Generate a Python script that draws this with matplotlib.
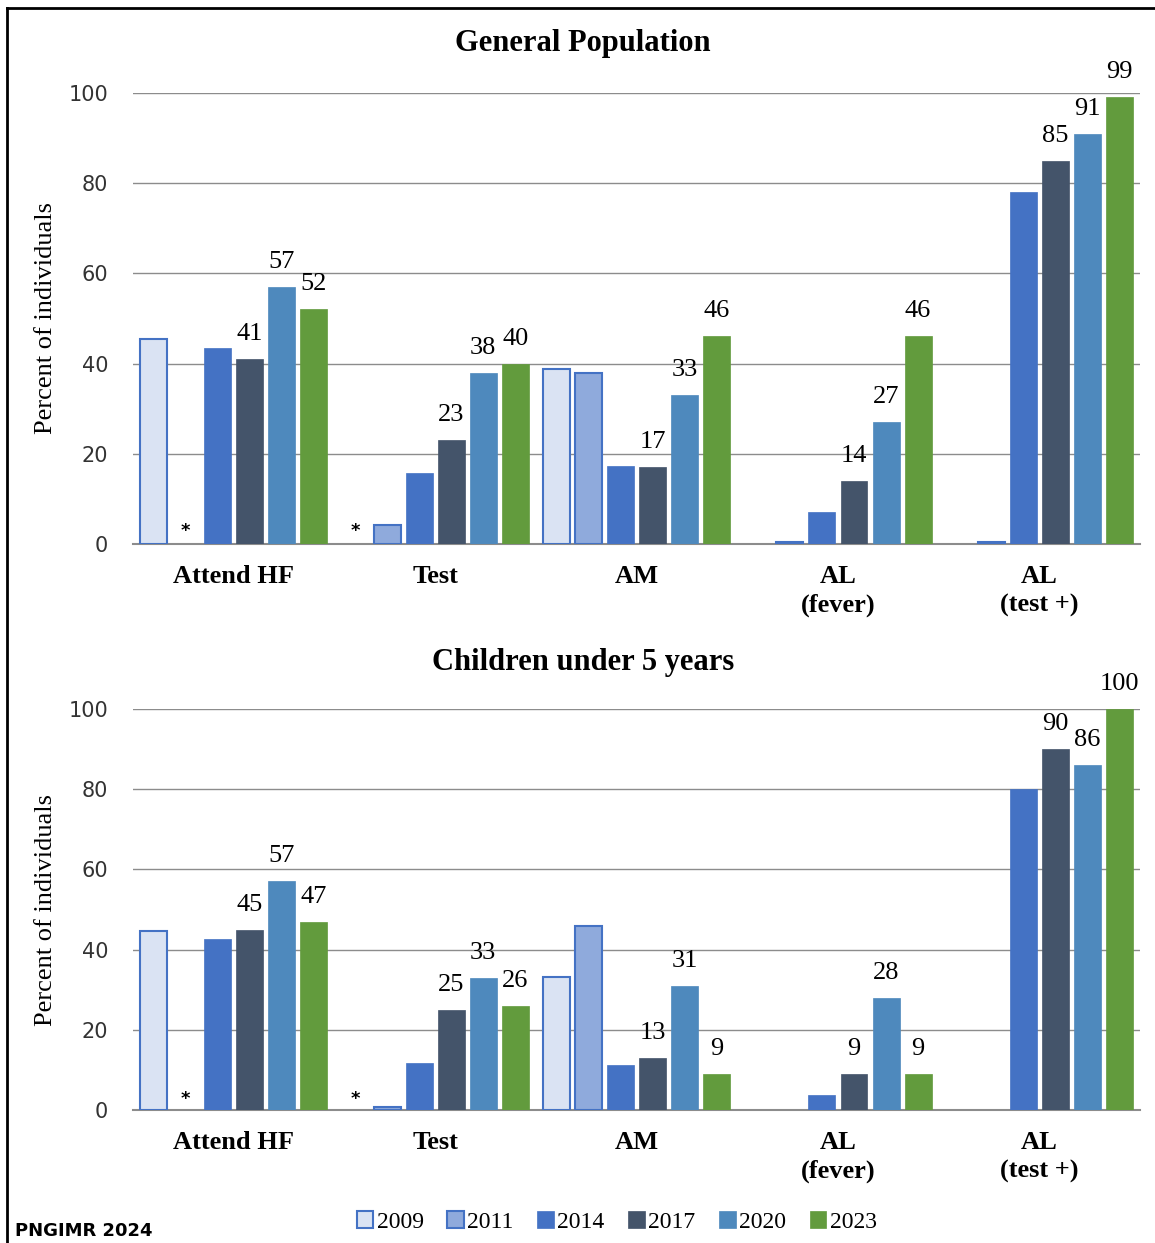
import matplotlib.pyplot as plt
import numpy as np
from matplotlib.lines import Line2D

categories = ["Attend HF", "Test", "AM", "AL\n(fever)", "AL\n(test +)"]
years = ["2009", "2011", "2014", "2017", "2020", "2023"]
labelled = ["2017", "2020", "2023"]

# General population (None = not surveyed that year, shown with *)
gen_2009 = [45.5, None, 38.8, 0, 0]
gen_2011 = [None, 4.2, 38.0, 0.5, 0.5]
gen_2014 = [43.5, 15.8, 17.3, 7.0, 78.0]
gen_2017 = [41, 23, 17, 14, 85]
gen_2020 = [57, 38, 33, 27, 91]
gen_2023 = [52, 40, 46, 46, 99]

# Children under 5 years
u5_2009 = [44.6, None, 33.2, 0, 0]
u5_2011 = [None, 0.8, 45.9, 0, 0]
u5_2014 = [42.6, 11.7, 11.2, 3.7, 80.0]
u5_2017 = [45, 25, 13, 9, 90]
u5_2020 = [57, 33, 31, 28, 86]
u5_2023 = [47, 26, 9, 9, 100]

fills = ["#dae3f3", "#8faadc", "#4472c4", "#44546a", "#4e89bd", "#629b3d"]
edges = ["#4472c4", "#4472c4", "#4472c4", "#44546a", "#4e89bd", "#629b3d"]

serif = "Liberation Serif"
step = 0.159
width = 0.134
grid_col = "#8c8c8c"


def draw_panel(ax, data, title, title_y):
    x = np.arange(len(categories))
    for i, year in enumerate(years):
        pos = x + (i - 2.5) * step
        bx = [p for p, v in zip(pos, data[i]) if v]
        bh = [v for v in data[i] if v]
        ax.bar(bx, bh, width, color=fills[i], edgecolor=edges[i],
               linewidth=1.5 if i < 2 else 0.5, label=year, zorder=3)
        for p, v in zip(pos, data[i]):
            if v is None:
                ax.text(p, 2.8, "*", ha="center", va="center", fontsize=13,
                        fontweight="bold", zorder=4)
            elif year in labelled:
                ax.annotate(f"{v:g}", (p, v), xytext=(0, 18), textcoords="offset points",
                            ha="center", va="center", family=serif, fontsize=19, zorder=4)

    ax.set_xlim(-0.5, len(categories) - 0.5)
    ax.set_ylim(0, 100)
    ax.set_yticks([0, 20, 40, 60, 80, 100])
    ax.yaxis.grid(True, color=grid_col, linewidth=1)
    ax.set_axisbelow(True)
    for s in ["left", "top", "right"]:
        ax.spines[s].set_visible(False)
    ax.spines["bottom"].set_color(grid_col)
    ax.spines["bottom"].set_linewidth(1.5)
    ax.tick_params(axis="y", length=0, pad=18, labelsize=15, labelcolor="#333333")
    ax.tick_params(axis="x", length=0, pad=15)
    ax.set_xticks(x)
    ax.set_xticklabels(categories, family=serif, fontweight="bold", fontsize=19,
                       linespacing=1.3)
    ax.set_ylabel("Percent of individuals", family=serif, fontsize=19)
    ax.yaxis.set_label_coords(-0.076, 0.5)
    fig.text(0.505, title_y, title, ha="center", va="center", family=serif,
             fontweight="bold", fontsize=22)


fig = plt.figure(figsize=(11.55, 12.43), dpi=100)
ax1 = fig.add_axes([0.1152, 0.5624, 0.8719, 0.3628])
ax2 = fig.add_axes([0.1152, 0.1070, 0.8719, 0.3226])

draw_panel(ax1, [gen_2009, gen_2011, gen_2014, gen_2017, gen_2020, gen_2023],
           "General Population", 1 - 44 / 1243)
draw_panel(ax2, [u5_2009, u5_2011, u5_2014, u5_2017, u5_2020, u5_2023],
           "Children under 5 years", 1 - 662 / 1243)

handles, labels = ax1.get_legend_handles_labels()
fig.legend(handles, labels, loc="center", bbox_to_anchor=(0.534, 1 - 1222 / 1243),
           ncol=6, frameon=False, prop={"family": serif, "size": 17},
           handlelength=0.7, handleheight=0.7, handletextpad=0.15, columnspacing=1.0)

fig.text(15 / 1155, 1 - 1231 / 1243, "PNGIMR 2024", ha="left", va="center",
         fontsize=13, fontweight="bold")

# frame around the figure
fig.add_artist(Line2D([7 / 1155, 7 / 1155], [0, 1 - 8 / 1243], color="black", linewidth=2,
                      transform=fig.transFigure))
fig.add_artist(Line2D([7 / 1155, 1], [1 - 8 / 1243, 1 - 8 / 1243], color="black", linewidth=2,
                      transform=fig.transFigure))

fig.savefig("out.png", dpi=100)
